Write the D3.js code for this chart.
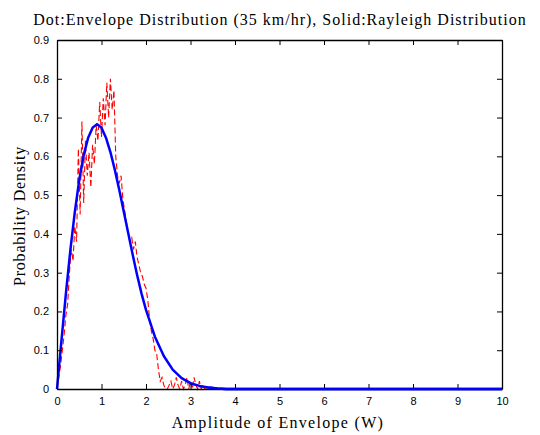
<!DOCTYPE html>
<html>
<head>
<meta charset="utf-8">
<script src="https://cdn.jsdelivr.net/npm/d3@7"></script>
<style>
  body { margin: 0; background: #fff; }
  svg { display: block; }
</style>
</head>
<body>
<svg id="chart" width="540" height="435"></svg>
<script>
// envelope histogram (red dashed)
const envX = [0.00, 0.04, 0.08, 0.12, 0.16, 0.20, 0.24, 0.28, 0.32, 0.36, 0.40, 0.44, 0.48, 0.52, 0.56, 0.60,
  0.64, 0.68, 0.72, 0.76, 0.80, 0.84, 0.88, 0.92, 0.96, 1.00, 1.04, 1.08, 1.12, 1.16, 1.20, 1.24, 1.28, 1.32,
  1.36, 1.40, 1.44, 1.48, 1.52, 1.56, 1.60, 1.64, 1.68, 1.72, 1.76, 1.80, 1.84, 1.88, 1.92, 1.96, 2.00, 2.04,
  2.08, 2.12, 2.16, 2.20, 2.24, 2.28, 2.32, 2.36, 2.40, 2.44, 2.48, 2.52, 2.56, 2.60, 2.64, 2.68, 2.72, 2.76,
  2.80, 2.84, 2.88, 2.92, 2.96, 3.00, 3.04, 3.08, 3.12, 3.16, 3.20, 3.24, 3.28, 3.32, 10];
const envY = [0.00, 0.03, 0.06, 0.10, 0.14, 0.19, 0.22, 0.30, 0.36, 0.33, 0.42, 0.38, 0.62, 0.45, 0.69, 0.48,
  0.64, 0.55, 0.61, 0.52, 0.63, 0.58, 0.68, 0.64, 0.74, 0.65, 0.75, 0.68, 0.79, 0.70, 0.80, 0.72, 0.77, 0.60,
  0.55, 0.53, 0.55, 0.49, 0.46, 0.43, 0.40, 0.38, 0.39, 0.36, 0.38, 0.34, 0.32, 0.30, 0.29, 0.27, 0.26, 0.23,
  0.18, 0.15, 0.13, 0.10, 0.09, 0.05, 0.02, 0.03, 0.01, 0.00, 0.00, 0.01, 0.02, 0.00, 0.01, 0.03, 0.01, 0.00,
  0.02, 0.00, 0.01, 0.03, 0.00, 0.02, 0.00, 0.03, 0.01, 0.00, 0.02, 0.00, 0.01, 0.00, 0.00];

// rayleigh curve (blue solid)
const rayX = [0, 0.1, 0.2, 0.3, 0.4, 0.5, 0.6, 0.7, 0.8, 0.9, 1.0, 1.1, 1.2, 1.3, 1.4, 1.5, 1.6, 1.7, 1.8,
  1.9, 2.0, 2.2, 2.4, 2.6, 2.8, 3.0, 3.2, 3.4, 3.6, 3.8, 10];
const rayY = [0, 0.125, 0.246, 0.358, 0.456, 0.539, 0.603, 0.648, 0.674, 0.683, 0.674, 0.648, 0.611, 0.565,
  0.513, 0.458, 0.402, 0.347, 0.294, 0.246, 0.204, 0.135, 0.085, 0.050, 0.028, 0.015, 0.008, 0.004, 0.001, 0, 0];

const xTicks = [0, 1, 2, 3, 4, 5, 6, 7, 8, 9, 10];
const yTicks = [0, 0.1, 0.2, 0.3, 0.4, 0.5, 0.6, 0.7, 0.8, 0.9];

const svg = d3.select("#chart");
const plotLeft = 57, plotRight = 502, plotTop = 40, plotBottom = 389;
const tickLen = 5;

const x = d3.scaleLinear().domain([0, 10]).range([plotLeft, plotRight]);
const y = d3.scaleLinear().domain([0, 0.9]).range([plotBottom, plotTop]);

// curves
const line = d3.line().x(d => x(d[0])).y(d => y(d[1]));

svg.append("path")
  .datum(d3.zip(envX, envY))
  .attr("d", line)
  .attr("fill", "none")
  .attr("stroke", "#ff0000")
  .attr("stroke-width", 1.1)
  .attr("stroke-dasharray", "6,3");

svg.append("path")
  .datum(d3.zip(rayX, rayY))
  .attr("d", line)
  .attr("fill", "none")
  .attr("stroke", "#0000ff")
  .attr("stroke-width", 2.5)
  .attr("stroke-linejoin", "round");

// axes, MATLAB style box with inward ticks
const tickFont = "'Liberation Sans', Arial, sans-serif";

const xb = svg.append("g").attr("transform", "translate(0," + plotBottom + ")")
  .call(d3.axisBottom(x).tickValues(xTicks).tickSizeInner(-tickLen).tickSizeOuter(0).tickPadding(8)
    .tickFormat(d3.format("d")));
const xt = svg.append("g").attr("transform", "translate(0," + plotTop + ")")
  .call(d3.axisTop(x).tickValues(xTicks).tickSizeInner(-tickLen).tickSizeOuter(0).tickFormat(""));
const yl = svg.append("g").attr("transform", "translate(" + plotLeft + ",0)")
  .call(d3.axisLeft(y).tickValues(yTicks).tickSizeInner(-tickLen).tickSizeOuter(0).tickPadding(8)
    .tickFormat(d => d === 0 ? "0" : d3.format(".1f")(d)));
const yr = svg.append("g").attr("transform", "translate(" + plotRight + ",0)")
  .call(d3.axisRight(y).tickValues(yTicks).tickSizeInner(-tickLen).tickSizeOuter(0).tickFormat(""));

[xb, xt, yl, yr].forEach(g => {
  g.select(".domain").attr("stroke", "#000").attr("stroke-width", 1.3);
  g.selectAll(".tick line").attr("stroke", "#000");
  g.selectAll("text").attr("font-family", tickFont).attr("font-size", "11px").attr("fill", "#000");
});

// blue tail runs along the bottom axis, keep it on top
svg.append("path")
  .datum(d3.zip(rayX, rayY).filter(d => d[0] >= 3.4))
  .attr("d", line)
  .attr("fill", "none")
  .attr("stroke", "#0000ff")
  .attr("stroke-width", 2.5);

// titles
const serif = "'Liberation Serif', 'Times New Roman', serif";

svg.append("text")
  .attr("x", 280)
  .attr("y", 25)
  .attr("text-anchor", "middle")
  .attr("font-family", serif)
  .attr("font-size", "16px")
  .attr("letter-spacing", "1px")
  .text("Dot:Envelope Distribution (35 km/hr), Solid:Rayleigh Distribution");

svg.append("text")
  .attr("x", 278)
  .attr("y", 428)
  .attr("text-anchor", "middle")
  .attr("font-family", serif)
  .attr("font-size", "16px")
  .attr("letter-spacing", "1.3px")
  .text("Amplitude of Envelope (W)");

svg.append("text")
  .attr("transform", "translate(25,216) rotate(-90)")
  .attr("text-anchor", "middle")
  .attr("font-family", serif)
  .attr("font-size", "16px")
  .attr("letter-spacing", "0.8px")
  .text("Probability Density");
</script>
</body>
</html>
